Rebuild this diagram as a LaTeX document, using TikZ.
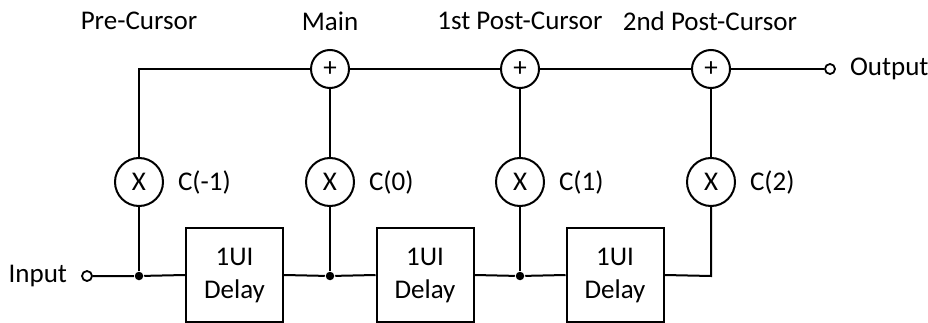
\documentclass[tikz,border=0pt]{standalone}
\usepackage{fontspec}
\setmainfont{Carlito}
\begin{document}
\begin{tikzpicture}[x=1pt,y=-1pt,line width=2pt,
  every node/.style={font=\fontsize{27}{33}\selectfont},
  sumnode/.style={circle,draw,minimum size=38pt,inner sep=0pt,font=\fontsize{27}{30}\selectfont},
  mulnode/.style={circle,draw,minimum size=48pt,inner sep=0pt},
  delaybox/.style={draw,minimum width=97pt,minimum height=94pt,inner sep=0pt,align=center},
  port/.style={circle,draw,fill=white,minimum size=10pt,inner sep=0pt,line width=1.8pt},
  junc/.style={circle,fill,minimum size=8.5pt,inner sep=0pt},
  lbl/.style={inner sep=0pt}]
\useasboundingbox (0,0) rectangle (928,323);
% taps
\node[sumnode] (s0) at (330,69) {+};
\node[sumnode] (s1) at (520,69) {+};
\node[sumnode] (s2) at (711,69) {+};
\node[mulnode] (m0) at (139,182) {X};
\node[mulnode] (m1) at (330,182) {X};
\node[mulnode] (m2) at (520,182) {X};
\node[mulnode] (m3) at (711,182) {X};
\node[delaybox] (d1) at (234.5,275) {1UI\\Delay};
\node[delaybox] (d2) at (425,275) {1UI\\Delay};
\node[delaybox] (d3) at (615,275) {1UI\\Delay};
\node[port] (in) at (87,276) {};
\node[port] (out) at (830,69) {};
\node[junc] (j0) at (139,276) {};
\node[junc] (j1) at (330,276) {};
\node[junc] (j2) at (520,276) {};
\coordinate (c0) at (139,69);
\coordinate (c3) at (711,276);
% labels
\node[lbl,anchor=east] (lin) at (68,276) {Input};
\node[lbl,anchor=west] (lout) at (849,69) {Output};
\node[lbl] (t0) at (139,21) {Pre-Cursor};
\node[lbl] (t1) at (330,21) {Main};
\node[lbl] (t2) at (520,21) {1st Post-Cursor};
\node[lbl] (t3) at (710,21) {2nd Post-Cursor};
\node[lbl,anchor=west] (k0) at (177,182) {C(-1)};
\node[lbl,anchor=west] (k1) at (368,182) {C(0)};
\node[lbl,anchor=west] (k2) at (558,182) {C(1)};
\node[lbl,anchor=west] (k3) at (749,182) {C(2)};
% connectors
\draw (in) -- (j0) -- (d1.west);
\draw (d1.east) -- (j1) -- (d2.west);
\draw (d2.east) -- (j2) -- (d3.west);
\draw (d3.east) -- (c3) -- (m3.south);
\draw (j0) -- (m0.south);
\draw (j1) -- (m1.south);
\draw (j2) -- (m2.south);
\draw (m0.north) -- (c0) -- (s0.west);
\draw (m1.north) -- (s0.south);
\draw (m2.north) -- (s1.south);
\draw (m3.north) -- (s2.south);
\draw (s0.east) -- (s1.west);
\draw (s1.east) -- (s2.west);
\draw (s2.east) -- (out.west);
\end{tikzpicture}
\end{document}
